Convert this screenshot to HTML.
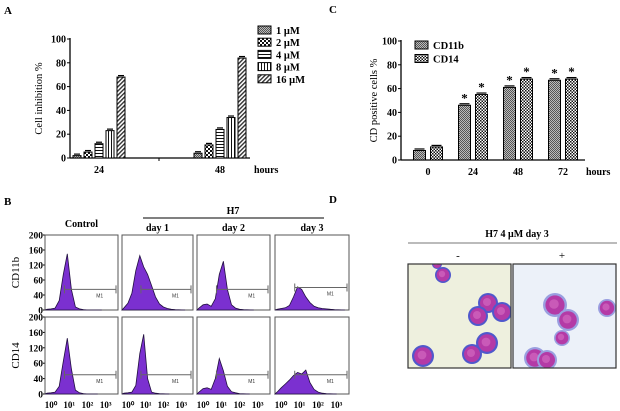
<!DOCTYPE html>
<html><head><meta charset="utf-8"><style>
body{margin:0;background:#fff}
svg{display:block;font-family:"Liberation Serif",serif}
</style></head><body>
<svg id="s" width="620" height="411" viewBox="0 0 620 411">
<defs>
<pattern id="p1" width="2" height="2" patternUnits="userSpaceOnUse"><rect width="2" height="2" fill="#bbb"/><rect width="1" height="1" fill="#555"/><rect x="1" y="1" width="1" height="1" fill="#555"/></pattern>
<pattern id="p2" width="4" height="4" patternUnits="userSpaceOnUse"><rect width="4" height="4" fill="#fff"/><rect width="2" height="2" fill="#111"/><rect x="2" y="2" width="2" height="2" fill="#111"/></pattern>
<pattern id="p3" width="3" height="3" patternUnits="userSpaceOnUse"><rect width="3" height="3" fill="#fff"/><rect width="3" height="1" fill="#111"/></pattern>
<pattern id="p4" width="3" height="3" patternUnits="userSpaceOnUse"><rect width="3" height="3" fill="#fff"/><rect width="1" height="3" fill="#111"/></pattern>
<pattern id="p5" width="3" height="3" patternUnits="userSpaceOnUse" patternTransform="rotate(45)"><rect width="3" height="3" fill="#fff"/><rect width="1.4" height="3" fill="#333"/></pattern>
<pattern id="p6" width="3" height="3" patternUnits="userSpaceOnUse"><rect width="3" height="3" fill="#fff"/><rect width="1.5" height="1.5" fill="#111"/><rect x="1.5" y="1.5" width="1.5" height="1.5" fill="#111"/></pattern>
</defs>
<g font-size="11">
<text x="4" y="14" font-weight="bold">A</text>
<text x="4" y="205" font-weight="bold">B</text>
<text x="329" y="13" font-weight="bold">C</text>
<text x="329" y="203" font-weight="bold">D</text>
</g>
<g id="gA"></g>
<g id="gC"></g>
<g id="gB"></g>
<g id="gD"></g>
</svg>
<script>
// Panel A data
const aCats=["24","48"];
const aSeries=["1 μM","2 μM","4 μM","8 μM","16 μM"];
const aVals=[[2,4],[5,11],[12,24],[23,34],[68,84]];
const aTicks=[0,20,40,60,80,100];
// Panel C data
const cCats=["0","24","48","72"];
const cSeries=["CD11b","CD14"];
const cVals=[[8,46,61,67],[11,55,68,68]];
const cStar=[[false,true,true,true],[false,true,true,true]];
const cTicks=[0,20,40,60,80,100];
// Panel B data (histogram counts per log bin, 4.5 bins/decade)
const bRows=["CD11b","CD14"];
const bCols=["Control","day 1","day 2","day 3"];
const bHist=[
 [[2,3,5,25,95,150,55,8,3,1,0,0],[6,18,45,105,145,115,95,65,35,16,8,4,2,1],[5,14,16,10,30,95,130,55,14,5,2,1],[2,4,6,12,35,62,55,35,20,10,6,4,3,2,1]],
 [[2,3,5,20,85,145,65,10,3,1,0],[2,3,5,22,105,155,40,5,2,1],[5,14,16,12,40,92,60,20,6,3,1],[5,16,26,36,48,56,52,62,30,12,5,2,1]]];
const bGate=[[55,55,55,60],[50,50,50,50]];
const bYT=["0","40","60","120","160","200"];
const bXT=["10⁰","10¹","10²","10³"];

const NS="http://www.w3.org/2000/svg";
function mk(p,t,a,txt){const e=document.createElementNS(NS,t);for(const k in a)e.setAttribute(k,a[k]);if(txt!==undefined)e.textContent=txt;p.appendChild(e);return e;}

function barChart(g,o){
  const y=v=>o.y0-(v/100)*(o.y0-o.y100);
  mk(g,'line',{x1:o.x0,y1:o.y100-1,x2:o.x0,y2:o.y0,stroke:'#000','stroke-width':1.3});
  mk(g,'line',{x1:o.x0,y1:o.y0,x2:o.x1,y2:o.y0,stroke:'#000','stroke-width':1.3});
  o.ticks.forEach(t=>{
    const l=mk(g,'line',{x1:o.x0-3,y1:y(t),x2:o.x0,y2:y(t),stroke:'#000'});
    
    const tx=mk(g,'text',{x:o.x0-4,y:y(t)+3.5,'font-size':10,'font-weight':'bold','text-anchor':'end'},String(t));
    
  });
  const ns=o.vals.length;
  o.cats.forEach((c,ci)=>{
    const cx=o.cx(ci);
    const tx=mk(g,'text',{x:cx,y:o.y0+15,'font-size':10,'font-weight':'bold','text-anchor':'middle'},c);
    
    o.vals.forEach((sv,si)=>{
      const v=sv[ci];const bx=cx-(ns*o.bw+(ns-1)*o.gap)/2+si*(o.bw+o.gap);
      const r=mk(g,'rect',{x:bx,y:y(v),width:o.bw,height:o.y0-y(v),fill:'url(#'+o.pats[si]+')',stroke:'#000','stroke-width':1});
      
      mk(g,'line',{x1:bx+1,y1:y(v)-1.5,x2:bx+o.bw-1,y2:y(v)-1.5,stroke:'#000','stroke-width':1.2});
      if(o.stars&&o.stars[si][ci]){const st=mk(g,'text',{x:bx+o.bw/2,y:y(v)-3,'font-size':13,'font-weight':'bold','text-anchor':'middle'},'*');}
    });
  });
  if(o.mid){mk(g,'line',{x1:o.mid,y1:o.y0,x2:o.mid,y2:o.y0+3,stroke:'#000'});}
  const h=mk(g,'text',{x:o.hx,y:o.y0+15,'font-size':10,'font-weight':'bold'},'hours');
  
  const yt=mk(g,'text',{x:0,y:0,'font-size':10.5,'text-anchor':'middle',transform:`translate(${o.ylx},${(o.y0+o.y100)/2}) rotate(-90)`},o.ytitle);
  
  o.names.forEach((n,i)=>{
    const ly=o.ly+i*o.ldy;
    const r=mk(g,'rect',{x:o.lx,y:ly-7,width:13,height:8,fill:'url(#'+o.pats[i]+')',stroke:'#000'});
    
    const t=mk(g,'text',{x:o.lx+18,y:ly+1,'font-size':10.5,'font-weight':'bold'},n);
    
  });
}
barChart(document.getElementById('gA'),{x0:70,x1:250,y0:158,y100:39,cats:aCats,vals:aVals,names:aSeries,
 cx:i=>99+i*121,bw:8,gap:3,pats:['p1','p2','p3','p4','p5'],ticks:aTicks,mid:159,hx:254,ylx:42,ytitle:'Cell inhibition %',lx:258,ly:33,ldy:12.2});
barChart(document.getElementById('gC'),{x0:401,x1:585,y0:160,y100:41,cats:cCats,vals:cVals,names:cSeries,stars:cStar,
 cx:i=>428+i*45,bw:12,gap:5,pats:['p1','p6'],ticks:cTicks,hx:586,ylx:377,ytitle:'CD positive cells %',lx:415,ly:48,ldy:13.5});

// Panel B
const gB=document.getElementById('gB');
const colX=[45,122,197,275],colW=[73,71,73,74];
const rowY=[235,317],rowH=[75,77];
bCols.forEach((c,ci)=>{const t=mk(gB,'text',{x:colX[ci]+colW[ci]/2,y:ci==0?227:231,'font-size':10,'font-weight':'bold','text-anchor':'middle'},c);});
mk(gB,'line',{x1:143,y1:218,x2:324,y2:218,stroke:'#000'});
{const t=mk(gB,'text',{x:233,y:214,'font-size':10,'font-weight':'bold','text-anchor':'middle'},'H7');}
bRows.forEach((r,ri)=>{
  const t=mk(gB,'text',{x:0,y:0,'font-size':11,'text-anchor':'middle',transform:`translate(19,${rowY[ri]+rowH[ri]/2}) rotate(-90)`},r);
  
  bYT.forEach((l,i)=>{const yy=rowY[ri]+rowH[ri]-i*rowH[ri]/5;
    const tx=mk(gB,'text',{x:43,y:yy+3.5,'font-size':9.5,'font-weight':'bold','text-anchor':'end'},l);
    mk(gB,'line',{x1:43,y1:yy,x2:45,y2:yy,stroke:'#000'});});
  bCols.forEach((c,ci)=>{
    const x0=colX[ci],w=colW[ci],y0=rowY[ri],h=rowH[ri];
    const px=b=>x0+b*w/18, py=v=>y0+h-v/200*h;
    const box=mk(gB,'rect',{x:x0,y:y0,width:w,height:h,fill:'#fff',stroke:'#555','stroke-width':1});
    
    const hist=bHist[ri][ci];let d='M'+px(0)+','+py(0);
    hist.forEach((v,i)=>{d+=' L'+px(i+0.5).toFixed(1)+','+py(v).toFixed(1);});
    d+=' L'+px(hist.length+2)+','+py(0)+' Z';
    const p=mk(gB,'path',{d:d,fill:'#7b30d0',stroke:'#221040','stroke-width':0.8});
    
    const gy=py(bGate[ri][ci]),gx0=px(4.8),gx1=x0+w-2;
    mk(gB,'line',{x1:gx0,y1:gy,x2:gx1,y2:gy,stroke:'#666'});
    mk(gB,'line',{x1:gx1,y1:gy-4,x2:gx1,y2:gy+4,stroke:'#666'});
    mk(gB,'line',{x1:gx0,y1:gy-4,x2:gx0,y2:gy+4,stroke:'#666'});
    const m=mk(gB,'text',{x:(gx0+gx1)/2+6,y:gy+8,'font-size':5,'fill':'#333','font-family':'Liberation Sans'},'M1');
    if(ri==1){bXT.forEach((l,i)=>{const tx=mk(gB,'text',{x:x0+2+i*w/4+4,y:408,'font-size':9,'font-weight':'bold','text-anchor':'middle'},l);});}
  });
});

// Panel D
const gD=document.getElementById('gD');
{const t=mk(gD,'text',{x:517,y:237,'font-size':10,'font-weight':'bold','text-anchor':'middle'},'H7  4 μM  day 3');}
mk(gD,'line',{x1:408,y1:243,x2:617,y2:243,stroke:'#777'});
mk(gD,'text',{x:458,y:259,'font-size':11,'text-anchor':'middle'},'-');
mk(gD,'text',{x:562,y:259,'font-size':11,'text-anchor':'middle'},'+');
const cellsL=[[443,275,8],[488,303,10],[478,316,10],[502,312,10],[487,343,11],[472,354,10],[423,356,11],[437,264,5]];
const cellsR=[[555,305,12],[568,320,11],[607,308,9],[562,338,8],[535,358,11],[547,360,10]];
[[408,cellsL,'#eef0de','#5058cc'],[513,cellsR,'#ecf1f9','#9a9fe0']].forEach(([x,cells,bg,cy],k)=>{
  const cp=mk(gD,'clipPath',{id:'cl'+k});mk(cp,'rect',{x:x,y:264,width:103,height:104});
  const g=mk(gD,'g',{'clip-path':'url(#cl'+k+')'});
  const r=mk(g,'rect',{x:x,y:264,width:103,height:104,fill:bg});
  
  cells.forEach(([cx,cyy,rr])=>{mk(g,'circle',{cx:cx,cy:cyy,r:rr,fill:cy});mk(g,'circle',{cx:cx,cy:cyy,r:rr*0.8,fill:'#b43aa6'});mk(g,'circle',{cx:cx-1,cy:cyy-1,r:rr*0.4,fill:'#c95ab8'});});
  mk(gD,'rect',{x:x,y:264,width:103,height:104,fill:'none',stroke:'#333','stroke-width':1.2});
});
</script>
</body></html>
